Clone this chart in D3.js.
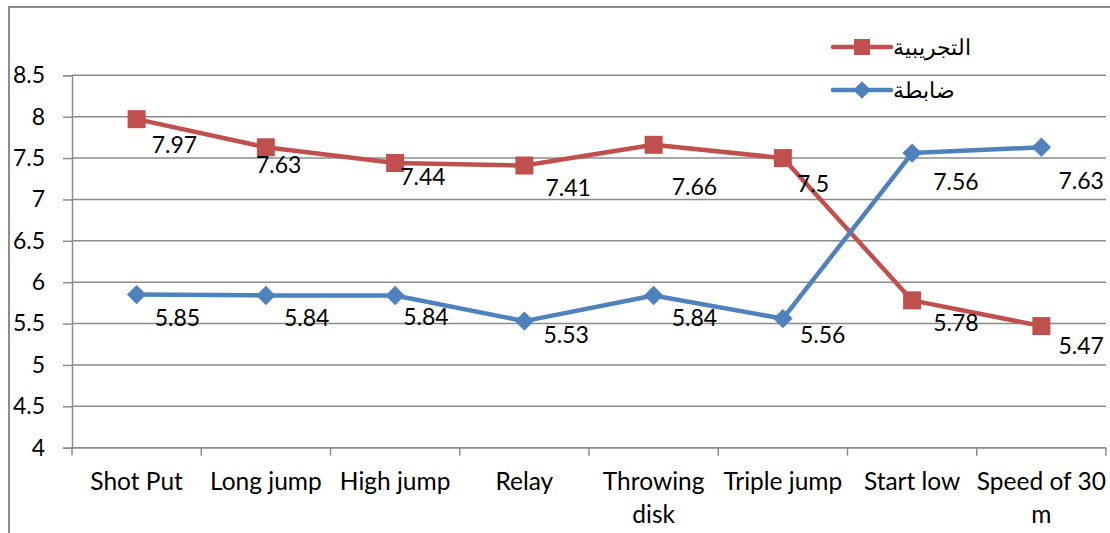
<!DOCTYPE html>
<html>
<head>
<meta charset="utf-8">
<script src="https://cdn.jsdelivr.net/npm/d3@7"></script>
<style>
  html, body { margin: 0; padding: 0; background: #fff; }
  svg { display: block; }
  text { font-family: Lato, "Open Sans", sans-serif; fill: #000; }
</style>
</head>
<body>
<svg id="chart" width="1110" height="533"></svg>
<script>
// ---- data ----
const categories = ["Shot Put", "Long jump", "High jump", "Relay", "Throwing disk", "Triple jump", "Start low", "Speed of 30 m"];
const experimental = [7.97, 7.63, 7.44, 7.41, 7.66, 7.5, 5.78, 5.47];
const control = [5.85, 5.84, 5.84, 5.53, 5.84, 5.56, 7.56, 7.63];
const seriesNames = ["التجريبية", "ضابطة"];
const yTicks = [4, 4.5, 5, 5.5, 6, 6.5, 7, 7.5, 8, 8.5];

// ---- layout ----
const W = 1110, H = 533;
const plot = { left: 72, right: 1106, top: 75.3, bottom: 447.7 };
const RED = "#C0504D", BLUE = "#4F81BD", GRID = "#8c8c8c";
const FS = 23, FSX = 24.5;

const svg = d3.select("#chart");

// outer frame (cropped chart area border)
svg.append("path")
  .attr("d", `M9,${H + 5} L9,7 L${W + 5},7`)
  .attr("fill", "none").attr("stroke", GRID).attr("stroke-width", 2);

const x = d3.scaleBand().domain(categories).range([plot.left, plot.right]).padding(0);
const y = d3.scaleLinear().domain([4, 8.5]).range([plot.bottom, plot.top]);
const cx = c => x(c) + x.bandwidth() / 2;

// gridlines
svg.append("g").selectAll("line").data(yTicks).join("line")
  .attr("x1", plot.left).attr("x2", plot.right)
  .attr("y1", d => y(d)).attr("y2", d => y(d))
  .attr("stroke", GRID).attr("stroke-width", 1.5);

// y axis
const yAxis = svg.append("g").attr("transform", `translate(${plot.left},0)`)
  .call(d3.axisLeft(y).tickValues(yTicks).tickSize(9).tickPadding(18).tickFormat(d3.format("")));
yAxis.select(".domain").attr("stroke", GRID).attr("stroke-width", 1.5);
yAxis.selectAll(".tick line").attr("stroke", GRID).attr("stroke-width", 1.5);
yAxis.selectAll("text").attr("font-size", FS).attr("font-family", "Lato, sans-serif").attr("fill", "#000");

// x axis
const boundaries = categories.map(c => x(c)).concat([plot.right]);
const xg = svg.append("g");
xg.append("line").attr("x1", plot.left).attr("x2", plot.right)
  .attr("y1", plot.bottom).attr("y2", plot.bottom)
  .attr("stroke", GRID).attr("stroke-width", 1.5);
xg.selectAll("line.tk").data(boundaries).join("line").attr("class", "tk")
  .attr("x1", d => d).attr("x2", d => d)
  .attr("y1", plot.bottom).attr("y2", plot.bottom + 8)
  .attr("stroke", GRID).attr("stroke-width", 1.5);

// x labels with wrapping
const wrapMap = { "Throwing disk": ["Throwing", "disk"], "Speed of 30 m": ["Speed of 30", "m"] };
categories.forEach(c => {
  const lines = wrapMap[c] || [c];
  const t = svg.append("text").attr("text-anchor", "middle").attr("font-size", FSX)
    .attr("x", cx(c)).attr("y", 490);
  lines.forEach((ln, i) => t.append("tspan").attr("x", cx(c)).attr("dy", i === 0 ? 0 : 33).text(ln));
});

const line = d3.line().x((d, i) => cx(categories[i])).y(d => y(d));

function drawSeries(vals, color, marker, nudges) {
  svg.append("path").datum(vals).attr("d", line)
    .attr("fill", "none").attr("stroke", color).attr("stroke-width", 4.5).attr("stroke-linejoin", "round");
  const g = svg.append("g");
  vals.forEach((v, i) => {
    const px = cx(categories[i]), py = y(v);
    if (marker === "square") {
      g.append("rect").attr("x", px - 9).attr("y", py - 9).attr("width", 18).attr("height", 18).attr("fill", color);
    } else {
      g.append("path").attr("d", d3.symbol(d3.symbolDiamond2, 240)()).attr("transform", `translate(${px},${py})`).attr("fill", color);
    }
  });
  vals.forEach((v, i) => {
    const px = cx(categories[i]), py = y(v);
    const n = nudges[i];
    svg.append("text").attr("font-size", FS).attr("x", px + n[0]).attr("y", py + n[1])
      .attr("dominant-baseline", "central").text(v);
  });
}

// label offsets relative to point (dx to left edge, dy to center)
const redNudge = [[15, 25], [-10, 17], [5, 13], [21, 21], [18, 41], [14, 25], [21, 22], [17, 19]];
const blueNudge = [[18, 22], [18, 22], [8, 21], [19, 13], [18, 22], [17, 15], [21, 28], [17, 33]];

drawSeries(experimental, RED, "square", redNudge);
drawSeries(control, BLUE, "diamond", blueNudge);

// legend
const legend = [
  { name: seriesNames[0], color: RED, marker: "square", y: 47 },
  { name: seriesNames[1], color: BLUE, marker: "diamond", y: 90 }
];
legend.forEach(l => {
  svg.append("line").attr("x1", 833).attr("x2", 891).attr("y1", l.y).attr("y2", l.y)
    .attr("stroke", l.color).attr("stroke-width", 4.5).attr("stroke-linecap", "round");
  if (l.marker === "square") {
    svg.append("rect").attr("x", 854).attr("y", l.y - 8).attr("width", 16).attr("height", 16).attr("fill", l.color);
  } else {
    svg.append("path").attr("d", d3.symbol(d3.symbolDiamond2, 200)()).attr("transform", `translate(862,${l.y})`).attr("fill", l.color);
  }
  svg.append("text").attr("x", 893).attr("y", l.y).attr("dominant-baseline", "central")
    .attr("font-size", 21.5).attr("font-family", "'DejaVu Sans', sans-serif").attr("direction", "rtl")
    .attr("text-anchor", "end").text(l.name);
});
</script>
</body>
</html>
